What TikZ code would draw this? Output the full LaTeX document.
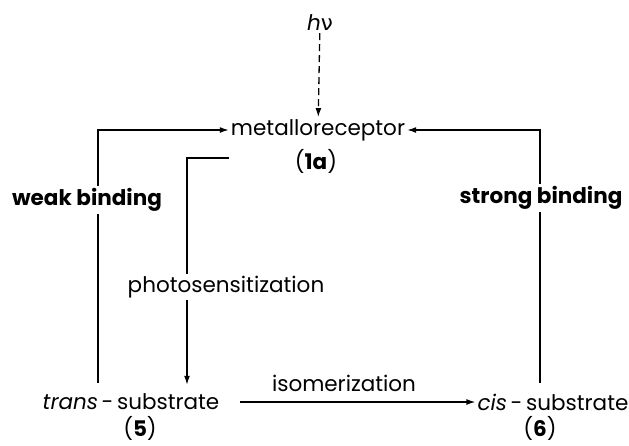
\documentclass[tikz,border=0pt]{standalone}
\usepackage{fontspec}
\setmainfont{Poppins}
\newfontfamily\grk{DejaVu Sans}
\usetikzlibrary{arrows.meta, positioning, calc, backgrounds}
\tikzset{
  lbl/.style={inner sep=2pt, font=\fontsize{21.5}{25}\selectfont},
  bnd/.style={lbl, font=\fontsize{21.5}{25}\selectfont\bfseries, fill=white},
  arc/.style={-{Latex[length=9pt,width=6pt]}, line width=1.3pt},
  dsh/.style={arc, dash pattern=on 7pt off 4pt}
}

\begin{document}
\begin{tikzpicture}[x=1pt, y=-1pt]
  \useasboundingbox (0,0) rectangle (629,445);
  % species
  \node[lbl] (hv) at (320,23) {\textit{h}{\grk ν}};
  \node[lbl] (mr) at (318,130) {metalloreceptor};
  \node[lbl] (n1a) at (316,161) {(\textbf{1a})};
  \node[lbl] (trans) at (131,402) {\textit{trans}\,-\,substrate};
  \node[lbl, inner sep=0pt] (n5) at (140,428) {(\textbf{5})};
  \node[lbl] (cis) at (553,402) {\textit{cis}\,-\,substrate};
  \node[lbl, inner sep=0pt] (n6) at (540,428) {(\textbf{6})};
  % process labels
  \node[bnd] (weak) at (87,200) {weak binding};
  \node[bnd] (strong) at (541,198) {strong binding};
  \node[lbl, fill=white] (photo) at (226,287) {photosensitization};
  \node[lbl] (iso) at (344,383) {isomerization};

  \begin{scope}[on background layer]
    \draw[dsh] (hv) -- (mr);
    \draw[arc] ([xshift=-33pt,yshift=9pt]trans.north) |- (mr.west);
    \draw[arc] ([xshift=-13pt,yshift=9pt]cis.north) |- (mr.east);
    \draw[arc] ([yshift=3pt]mr.west |- n1a) -| ([xshift=56pt,yshift=7pt]trans.north);
    \draw[arc, shorten <=18pt] (trans.east) -- (cis.west);
  \end{scope}
\end{tikzpicture}
\end{document}
